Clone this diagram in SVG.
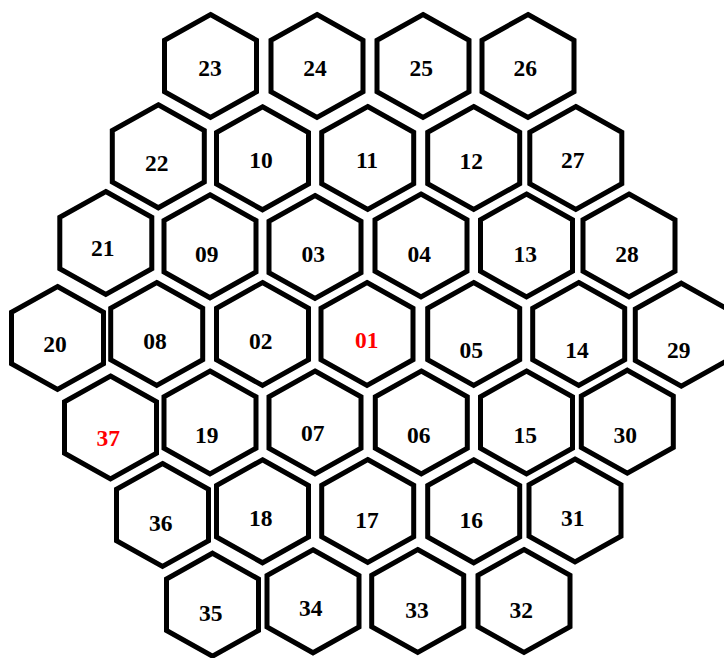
<svg xmlns="http://www.w3.org/2000/svg" xmlns:xlink="http://www.w3.org/1999/xlink" width="724" height="658" viewBox="0 0 724 658">
<style>
.h{fill:none;stroke:#000;stroke-width:5;stroke-linejoin:miter}
text{font-family:"Liberation Serif","Times New Roman",serif;font-weight:bold;font-size:23.5px;text-anchor:middle;fill:#000}
text.r{fill:#ff0000}
</style>
<defs>
<path id="hex" class="h" d="M0,-51.5 L46,-25.75 L46,25.75 L0,51.5 L-46,25.75 L-46,-25.75 Z"/>
</defs>
<rect width="724" height="658" fill="#fff"/>
<g id="connectors"/>
<g id="n23"><use href="#hex" x="210.5" y="66"/><text x="210" y="76.3">23</text></g>
<g id="n24"><use href="#hex" x="317" y="66"/><text x="315" y="76.3">24</text></g>
<g id="n25"><use href="#hex" x="423" y="66"/><text x="421.3" y="76.3">25</text></g>
<g id="n26"><use href="#hex" x="528" y="66"/><text x="525.3" y="76.3">26</text></g>
<g id="n22"><use href="#hex" x="158.3" y="156.3"/><text x="156.7" y="171.3">22</text></g>
<g id="n10"><use href="#hex" x="262.5" y="158.3"/><text x="261" y="168">10</text></g>
<g id="n11"><use href="#hex" x="367.7" y="158"/><text x="367" y="168">11</text></g>
<g id="n12"><use href="#hex" x="473.7" y="158"/><text x="471.3" y="168.7">12</text></g>
<g id="n27"><use href="#hex" x="575.8" y="158"/><text x="572.7" y="168">27</text></g>
<g id="n21"><use href="#hex" x="105.8" y="243"/><text x="102.7" y="256.3">21</text></g>
<g id="n09"><use href="#hex" x="210" y="246.3"/><text x="206.7" y="262.3">09</text></g>
<g id="n03"><use href="#hex" x="315" y="247"/><text x="313.3" y="262.3">03</text></g>
<g id="n04"><use href="#hex" x="421" y="245.5"/><text x="419.3" y="262.3">04</text></g>
<g id="n13"><use href="#hex" x="526.5" y="245.5"/><text x="525.3" y="262.3">13</text></g>
<g id="n28"><use href="#hex" x="629" y="245.5"/><text x="627" y="262.3">28</text></g>
<g id="n20"><use href="#hex" x="57.5" y="338"/><text x="55" y="352.3">20</text></g>
<g id="n08"><use href="#hex" x="156.7" y="334"/><text x="155" y="349">08</text></g>
<g id="n02"><use href="#hex" x="262.5" y="334"/><text x="260.7" y="349">02</text></g>
<g id="n01"><use href="#hex" x="367" y="334"/><text class="r" x="366.7" y="348">01</text></g>
<g id="n05"><use href="#hex" x="473.7" y="334"/><text x="471.3" y="358">05</text></g>
<g id="n14"><use href="#hex" x="578.7" y="334"/><text x="577" y="358">14</text></g>
<g id="n29"><use href="#hex" x="681.3" y="334.7"/><text x="678.7" y="358">29</text></g>
<g id="n37"><use href="#hex" x="110.5" y="427.5"/><text class="r" x="108.3" y="446.3">37</text></g>
<g id="n19"><use href="#hex" x="210" y="422.5"/><text x="206.7" y="443">19</text></g>
<g id="n07"><use href="#hex" x="315" y="422.5"/><text x="312.7" y="441.3">07</text></g>
<g id="n06"><use href="#hex" x="421.3" y="422.5"/><text x="418.7" y="443">06</text></g>
<g id="n15"><use href="#hex" x="526.5" y="422.5"/><text x="525.3" y="443">15</text></g>
<g id="n30"><use href="#hex" x="627.3" y="421.7"/><text x="625.3" y="443">30</text></g>
<g id="n36"><use href="#hex" x="162.5" y="515"/><text x="160.7" y="530.7">36</text></g>
<g id="n18"><use href="#hex" x="262.5" y="511.3"/><text x="260.7" y="526.3">18</text></g>
<g id="n17"><use href="#hex" x="367.7" y="511"/><text x="367" y="528">17</text></g>
<g id="n16"><use href="#hex" x="473.7" y="511.3"/><text x="471.3" y="528">16</text></g>
<g id="n31"><use href="#hex" x="575" y="510.5"/><text x="572.7" y="526.3">31</text></g>
<g id="n35"><use href="#hex" x="212.5" y="604.7"/><text x="210.7" y="620.7">35</text></g>
<g id="n34"><use href="#hex" x="313" y="601.3"/><text x="310.7" y="616.3">34</text></g>
<g id="n33"><use href="#hex" x="417.7" y="601"/><text x="417" y="618">33</text></g>
<g id="n32"><use href="#hex" x="524" y="601"/><text x="521.3" y="618">32</text></g>
</svg>
